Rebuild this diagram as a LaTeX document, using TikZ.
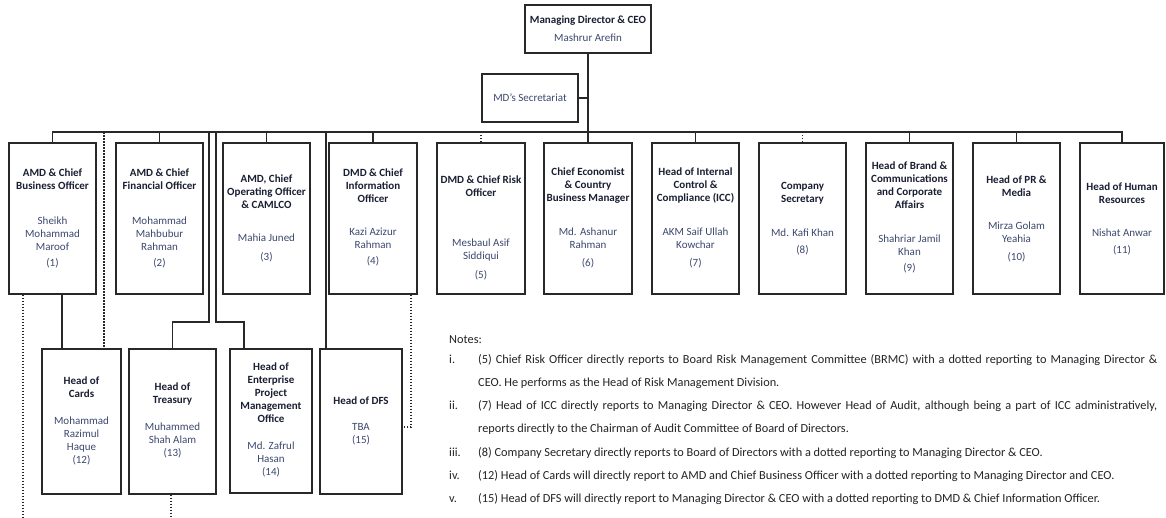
\documentclass[tikz,border=0pt]{standalone}
\usepackage{fontspec}
\setmainfont{Carlito}
\usetikzlibrary{calc}
\definecolor{ttlc}{RGB}{25,30,50}
\definecolor{perc}{RGB}{60,72,110}
\definecolor{linec}{RGB}{40,40,40}
\definecolor{notec}{RGB}{35,35,40}
\newcommand\obox[9]{%
  \node[box, minimum width={#3-#2}, minimum height={#5-#4}] (#1) at ({(#2+#3)/2},{(#4+#5)/2}) {};
  \node[ttl] (#1t) at ({(#2+#3)/2},#6) {#7};
  \node[per] (#1p) at ({(#2+#3)/2},#8) {#9};
}
\begin{document}
\begin{tikzpicture}[x=1pt,y=-1pt,
  box/.style={draw=linec, line width=1.3pt, inner sep=0pt, fill=white},
  ttl/.style={align=center, font=\fontsize{11}{13}\selectfont\bfseries, text=ttlc, inner sep=0pt},
  per/.style={align=center, font=\fontsize{11}{13}\selectfont, text=perc, inner sep=0pt},
  conn/.style={draw=linec, line width=1.1pt},
  dconn/.style={draw=linec, line width=1.3pt, dash pattern=on 1.6pt off 1.4pt}]
\useasboundingbox[fill=white] (0,0) rectangle (1166,517);

% top
\node[box, minimum width=126pt, minimum height=48pt] (md) at (588,29) {};
\node[ttl] (mdt) at (588,21) {Managing Director \& CEO};
\node[per] (mdp) at (588,38) {Mashrur Arefin};
\node[box, minimum width=96pt, minimum height=48pt] (sec) at (530,98) {};
\node[per] (sect) at (530,98) {MD’s Secretariat};

% first row
\obox{b1}{9}{96}{143}{294}{179.5}{AMD \& Chief\\Business Officer}{242}{Sheikh\\Mohammad\\Maroof\\[3pt](1)}
\obox{b2}{116}{203}{143}{294}{179.5}{AMD \& Chief\\Financial Officer}{242}{Mohammad\\Mahbubur\\Rahman\\[3pt](2)}
\obox{b3}{223}{310}{143}{294}{192}{AMD, Chief\\Operating Officer\\\& CAMLCO}{248}{Mahia Juned\\[6pt](3)}
\obox{b4}{329}{417}{143}{294}{185.5}{DMD \& Chief\\Information\\Officer}{247}{Kazi Azizur\\Rahman\\[3pt](4)}
\obox{b5}{437}{525}{143}{294}{186.5}{DMD \& Chief Risk\\Officer}{259}{Mesbaul Asif\\Siddiqui\\[6pt](5)}
\obox{b6}{544}{632}{143}{294}{185.5}{Chief Economist\\\& Country\\Business Manager}{248}{Md. Ashanur\\Rahman\\[5pt](6)}
\obox{b7}{652}{739}{143}{294}{185.5}{Head of Internal\\Control \&\\Compliance (ICC)}{248}{AKM Saif Ullah\\Kowchar\\[5pt](7)}
\obox{b8}{759}{846}{143}{294}{193}{Company\\Secretary}{241.5}{Md. Kafi Khan\\[4pt](8)}
\obox{b9}{866}{953}{143}{294}{185.5}{Head of Brand \&\\Communications\\and Corporate\\Affairs}{253.5}{Shahriar Jamil\\Khan\\[3pt](9)}
\obox{b10}{973}{1060}{143}{294}{186.5}{Head of PR \&\\Media}{242}{Mirza Golam\\Yeahia\\[5pt](10)}
\obox{b11}{1080}{1164}{143}{294}{193}{Head of Human\\Resources}{241.5}{Nishat Anwar\\[4pt](11)}

% second row
\obox{c12}{42}{121}{349}{494}{387.5}{Head of\\Cards}{441}{Mohammad\\Razimul\\Haque\\(12)}
\obox{c13}{129}{216}{349}{494}{394}{Head of\\Treasury}{440.5}{Muhammed\\Shah Alam\\(13)}
\obox{c14}{230}{312}{349}{493}{393}{Head of\\Enterprise\\Project\\Management\\Office}{459.5}{Md. Zafrul\\Hasan\\(14)}
\obox{c15}{320}{402}{349}{494}{401}{Head of DFS}{434.5}{TBA\\(15)}

% helper coordinates
\coordinate (bus) at (0,132);
\coordinate (k1) at (104,0);
\coordinate (k2) at (209,322);
\coordinate (k3) at (216,322);
\coordinate (k4) at (244,0);
\coordinate (k5) at (326,0);
\coordinate (k6) at (62,0);
\coordinate (k7) at (23,517);
\coordinate (k8) at (171,517);
\coordinate (k9) at (411,427);

% connectors
\draw[conn] (md.south) -- (b6.north);
\draw[conn] (sec.east) -- (sec.east -| md.south);
\draw[conn] (b1.north) |- (bus -| b11.north) -- (b11.north);
\foreach \b in {b2,b3,b4,b7,b9,b10}
  \draw[conn] (\b.north) -- (\b.north |- bus);
\foreach \b in {b5,b8}
  \draw[dconn] (\b.north) -- (\b.north |- bus);
\draw[dconn] (k1 |- bus) -- (k1 |- c12.north);
\draw[conn] (k2 |- bus) -- (k2) -| (c13.north);
\draw[conn] (k3 |- bus) -- (k3) -| (k4 |- c14.north);
\draw[conn] (k5 |- bus) -- (k5 |- c15.north);
\draw[conn] (k6 |- b1.south) -- (k6 |- c12.north);
\draw[dconn] (k7 |- b1.south) -- (k7);
\draw[dconn] (k8 |- c13.south) -- (k8);
\draw[dconn] (k9 |- b4.south) -- (k9) -- (k9 -| c15.east);

% notes
\node[anchor=north west, text width=708pt, align=justify, inner sep=0pt,
      font=\fontsize{12.3}{23.3}\selectfont, text=notec] (notes) at (449,335) {%
\noindent Notes:\par\vspace{-3.3pt}
\hangindent=29pt\hangafter=1\noindent\makebox[29pt][l]{i.}(5) Chief Risk Officer directly reports to Board Risk Management Committee (BRMC) with a dotted reporting to Managing Director \&\linebreak CEO. He performs as the Head of Risk Management Division.\par
\hangindent=29pt\hangafter=1\noindent\makebox[29pt][l]{ii.}(7) Head of ICC directly reports to Managing Director \& CEO. However Head of Audit, although being a part of ICC administratively,\linebreak reports directly to the Chairman of Audit Committee of Board of Directors.\par
\hangindent=29pt\hangafter=1\noindent\makebox[29pt][l]{iii.}(8) Company Secretary directly reports to Board of Directors with a dotted reporting to Managing Director \& CEO.\par
\hangindent=29pt\hangafter=1\noindent\makebox[29pt][l]{iv.}(12) Head of Cards will directly report to AMD and Chief Business Officer with a dotted reporting to Managing Director and CEO.\par
\hangindent=29pt\hangafter=1\noindent\makebox[29pt][l]{v.}(15) Head of DFS will directly report to Managing Director \& CEO with a dotted reporting to DMD \& Chief Information Officer.\par};
\end{tikzpicture}
\end{document}
